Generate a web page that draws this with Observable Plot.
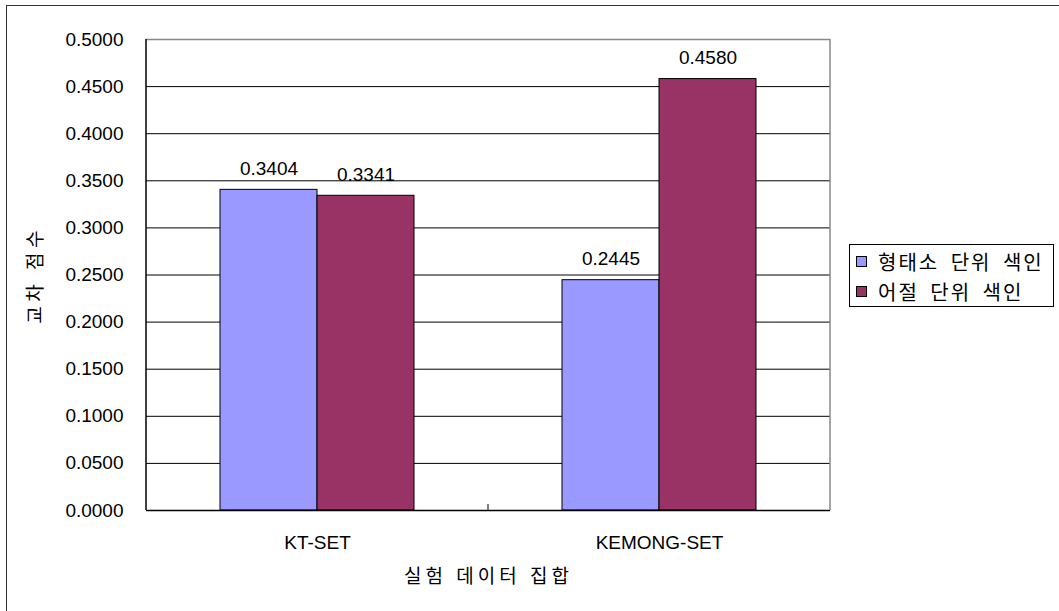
<!DOCTYPE html>
<html>
<head>
<meta charset="utf-8">
<script src="https://cdn.jsdelivr.net/npm/d3@7"></script>
<script src="https://cdn.jsdelivr.net/npm/@observablehq/plot@0.6"></script>
<style>
  html, body { margin: 0; padding: 0; background: #fff; overflow: hidden; }
  #wrap { position: relative; width: 1059px; height: 611px; }
  #border { position: absolute; left: 6px; top: 5px; width: 1200px; height: 800px;
            border: 1.5px solid #333; pointer-events: none; }
  #legend { position: absolute; left: 849px; top: 244px; width: 203px; height: 61px;
            border: 1px solid #000; background: #fff;
            font-family: "Noto Sans CJK KR", sans-serif; font-size: 20px; color: #000; }
  .item { position: absolute; left: 6px; height: 20px; display: flex; align-items: center; white-space: nowrap; }
  .sw { width: 9px; height: 9px; border: 1px solid #000; margin-right: 11px; }
  .item span { word-spacing: 5px; letter-spacing: 2px; }
</style>
</head>
<body>
<div id="wrap"></div>
<script>
// Index comparison: cross score per test collection
const categories = ["KT-SET", "KEMONG-SET"];
const seriesNames = ["형태소 단위 색인", "어절 단위 색인"];
const morphemeScores = [0.3404, 0.2445];
const eojeolScores = [0.3341, 0.4580];
const yTicks = [0, 0.05, 0.1, 0.15, 0.2, 0.25, 0.3, 0.35, 0.4, 0.45, 0.5];
const seriesColors = ["#9999FF", "#993366"];

const rows = categories.flatMap((c, i) => [
  {category: c, series: seriesNames[0], value: morphemeScores[i]},
  {category: c, series: seriesNames[1], value: eojeolScores[i]}
]);
const fmt = d3.format(".4f");

const chart = Plot.plot({
  width: 1059,
  height: 611,
  marginLeft: 146,
  marginRight: 229,
  marginTop: 39,
  marginBottom: 101,
  style: {
    fontFamily: "'Liberation Sans', 'Noto Sans CJK KR', sans-serif",
    fontSize: "19px",
    color: "#000",
    background: "#fff"
  },
  fx: {
    domain: categories, padding: 0, tickSize: 0, tickPadding: 25,
    label: "실험 데이터 집합", labelAnchor: "center", labelOffset: 72
  },
  x: {domain: seriesNames, paddingInner: 0, paddingOuter: 0.745, axis: null},
  y: {
    domain: [0, 0.5], ticks: yTicks, tickFormat: fmt, tickSize: 0, tickPadding: 23,
    label: "교차 점수", labelArrow: "none", labelAnchor: "center", labelOffset: 118
  },
  color: {domain: seriesNames, range: seriesColors},
  marks: [
    Plot.ruleY(yTicks.filter(t => t > 0 && t < 0.5), {stroke: "#000", strokeWidth: 1}),
    Plot.ruleY([0.5], {stroke: "#888", strokeWidth: 1.5}),
    Plot.barY(rows, {fx: "category", x: "series", y: "value", fill: "series", stroke: "#000", strokeWidth: 1}),
    Plot.ruleY([0], {stroke: "#000", strokeWidth: 1.5}),
    Plot.text(rows, {
      fx: "category", x: "series", y: "value", text: d => fmt(d.value),
      lineAnchor: "bottom", dy: -15, fill: "#000"
    })
  ]
});

const svg = d3.select(chart.tagName === "svg" ? chart : chart.querySelector("svg"));

// Wider glyph spacing for the Korean axis titles
svg.selectAll('g[aria-label="y-axis label"] text').style("letter-spacing", "4.5px");
svg.selectAll('g[aria-label="fx-axis label"] text').style("letter-spacing", "4px");

// Plot-area edges and the category divider tick, placed from the chart's own scales
const fxs = chart.scale("fx");
const ys = chart.scale("y");
const x0 = fxs.range[0], x1 = fxs.range[1];
const yBottom = ys.range[0], yTop = ys.range[1];
const edges = svg.append("g");
edges.append("line").attr("x1", x1).attr("x2", x1).attr("y1", yTop).attr("y2", yBottom)
  .attr("stroke", "#888").attr("stroke-width", 1.5);
edges.append("line").attr("x1", x0).attr("x2", x0).attr("y1", yTop).attr("y2", yBottom)
  .attr("stroke", "#000").attr("stroke-width", 1.5);
for (let i = 1; i < categories.length; i++) {
  const xb = x0 + fxs.step * i;
  edges.append("line").attr("x1", xb).attr("x2", xb).attr("y1", yBottom - 6).attr("y2", yBottom)
    .attr("stroke", "#000").attr("stroke-width", 1);
}

const wrap = document.getElementById("wrap");
wrap.appendChild(chart);

// Legend
const legend = document.createElement("div");
legend.id = "legend";
seriesNames.forEach((name, i) => {
  const item = document.createElement("div");
  item.className = "item";
  item.style.top = (6 + i * 30) + "px";
  const sw = document.createElement("div");
  sw.className = "sw";
  sw.style.background = seriesColors[i];
  const label = document.createElement("span");
  label.textContent = name;
  item.appendChild(sw);
  item.appendChild(label);
  legend.appendChild(item);
});
wrap.appendChild(legend);

const border = document.createElement("div");
border.id = "border";
wrap.appendChild(border);
</script>
</body>
</html>
